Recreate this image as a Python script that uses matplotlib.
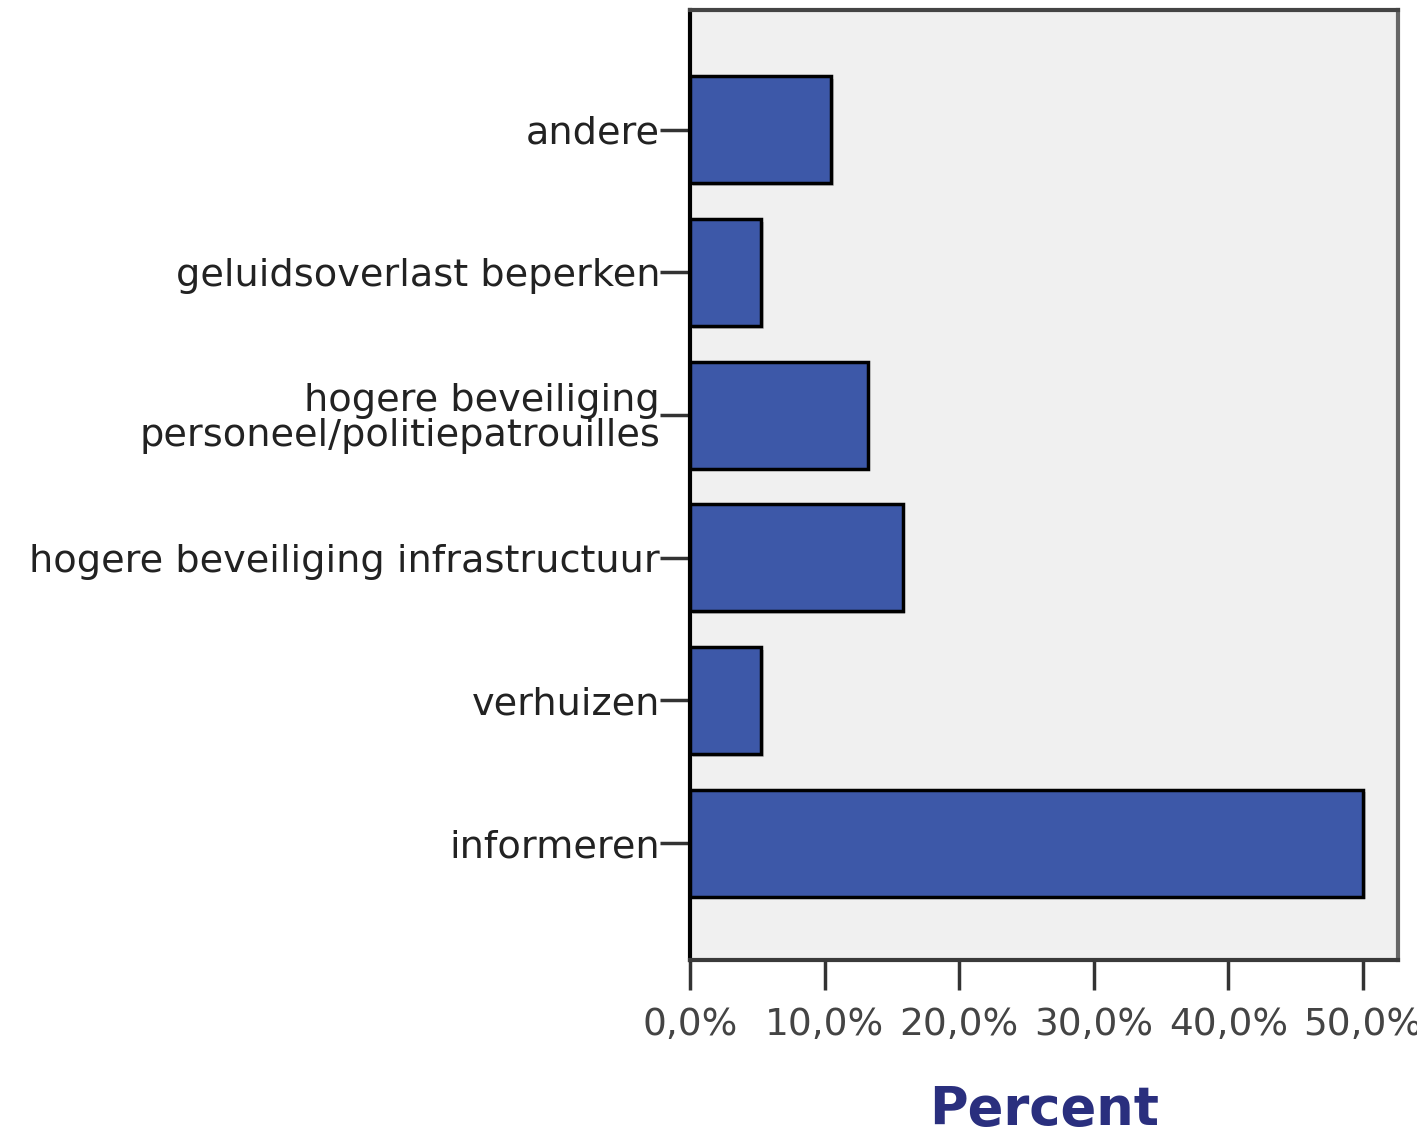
import matplotlib
matplotlib.use("Agg")
import matplotlib.pyplot as plt
from matplotlib.ticker import FuncFormatter
import matplotlib.patheffects as pe

categories = ["informeren", "verhuizen", "hogere beveiliging infrastructuur",
              "hogere beveiliging\npersoneel/politiepatrouilles",
              "geluidsoverlast beperken", "andere"]
values = [50.0, 5.3, 15.8, 13.2, 5.3, 10.5]
xticks = [0, 10, 20, 30, 40, 50]

fig = plt.figure(figsize=(14.17, 11.38), dpi=100)
ax = fig.add_axes([0.487, 0.1564, 0.4995, 0.8348])
ax.set_facecolor("#f0f0f0")

ypos = list(range(len(categories)))
bars = ax.barh(ypos, values, height=0.75, color="#3d58a8", edgecolor="black",
               linewidth=2.5, zorder=3)
for b in bars:
    b.set_path_effects([pe.SimplePatchShadow(offset=(2, -2), shadow_rgbFace="#c8c8c8", alpha=1.0),
                        pe.Normal()])

ax.set_xlim(0, 52.6)
ax.set_ylim(-0.82, 5.84)
ax.set_yticks(ypos)
ax.set_yticklabels(categories, fontsize=27.5, color="#222222", linespacing=0.95)
ax.set_xticks(xticks)
ax.xaxis.set_major_formatter(FuncFormatter(lambda v, p: f"{v:.1f}%".replace(".", ",")))
ax.tick_params(axis="x", direction="out", length=21.6, width=2.5, color="#333333",
               labelsize=27, labelcolor="#444444", pad=12)
ax.tick_params(axis="y", direction="out", length=21.6, width=2.5, color="#333333", pad=0)

for s in ["left", "bottom", "top", "right"]:
    ax.spines[s].set_linewidth(3)
ax.spines["left"].set_color("black")
ax.spines["bottom"].set_color("#3a3a3a")
ax.spines["top"].set_color("#444444")
ax.spines["right"].set_color("#666666")

ax.set_xlabel("Percent", fontsize=38, fontweight="bold", color="#2a2f7e", labelpad=30)

fig.savefig("out.png", dpi=100)
